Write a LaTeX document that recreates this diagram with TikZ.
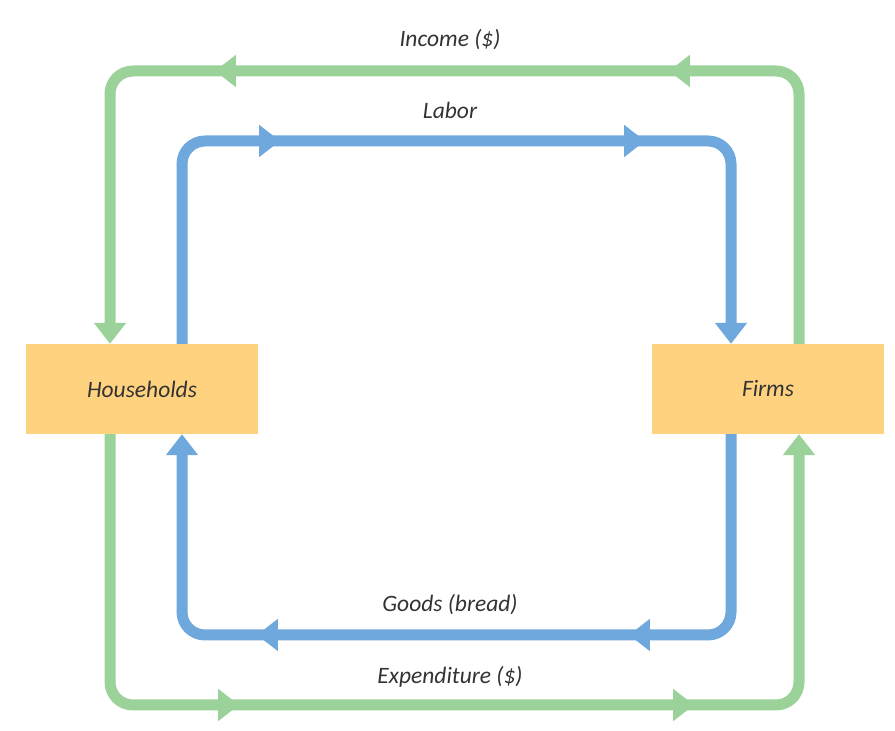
\documentclass[tikz,border=0pt]{standalone}
\usepackage{fontspec}
\setmainfont{Carlito}
\usetikzlibrary{arrows.meta,decorations.markings}
\definecolor{flowgreen}{HTML}{9BD29A}
\definecolor{flowblue}{HTML}{6FA8DC}
\definecolor{boxfill}{HTML}{FFD27F}
\definecolor{txt}{HTML}{333333}
\tikzset{
  tip/.tip={Triangle[length=21pt,width=31pt]},
  agentbox/.style={fill=boxfill, draw=none, minimum width=232pt, minimum height=90pt, inner sep=0pt,
    font=\fontsize{23.5}{27}\selectfont\itshape, text=txt},
  flowlabel/.style={font=\fontsize{23.5}{27}\selectfont\itshape, text=txt, inner sep=0pt},
  flow/.style={line width=11pt, rounded corners=23pt, -tip},
  gflow/.style={flow, draw=flowgreen, fill=none},
  bflow/.style={flow, draw=flowblue, fill=none},
  midarrows/.style 2 args={postaction={decorate, decoration={markings,
     mark=at position #1 with {\arrow{tip}},
     mark=at position #2 with {\arrow{tip}}}}}
}
\begin{document}
\begin{tikzpicture}[x=1pt,y=1pt]
\useasboundingbox (0,0) rectangle (895,731);
\node[agentbox] (hh) at (142,342) {Households};
\node[agentbox] (fm) at (768,342) {Firms};
% loop coordinates
\coordinate (gL) at (110,0);
\coordinate (gR) at (799,0);
\coordinate (bL) at (182,0);
\coordinate (bR) at (731,0);
\coordinate (gTR) at (799,660);
\coordinate (gTL) at (110,660);
\coordinate (gBL) at (110,26);
\coordinate (gBR) at (799,26);
\coordinate (bTL) at (182,590);
\coordinate (bTR) at (731,590);
\coordinate (bBR) at (731,96);
\coordinate (bBL) at (182,96);
% income
\draw[gflow, midarrows={393pt}{847pt}] (fm.north -| gR) -- (gTR) -- (gTL) -- (hh.north -| gL);
% labor
\draw[bflow, midarrows={291pt}{656pt}] (hh.north -| bL) -- (bTL) -- (bTR) -- (fm.north -| bR);
% goods
\draw[bflow, midarrows={293pt}{665pt}] (fm.south -| bR) -- (bBR) -- (bBL) -- (hh.south -| bL);
% expenditure
\draw[gflow, midarrows={390pt}{845pt}] (hh.south -| gL) -- (gBL) -- (gBR) -- (fm.south -| gR);
% labels
\node[flowlabel] (inc) at (450,691) {Income (\$)};
\node[flowlabel] (lab) at (450,621) {Labor};
\node[flowlabel] (goo) at (450,126) {Goods (bread)};
\node[flowlabel] (exp) at (450,54) {Expenditure (\$)};
\end{tikzpicture}
\end{document}
